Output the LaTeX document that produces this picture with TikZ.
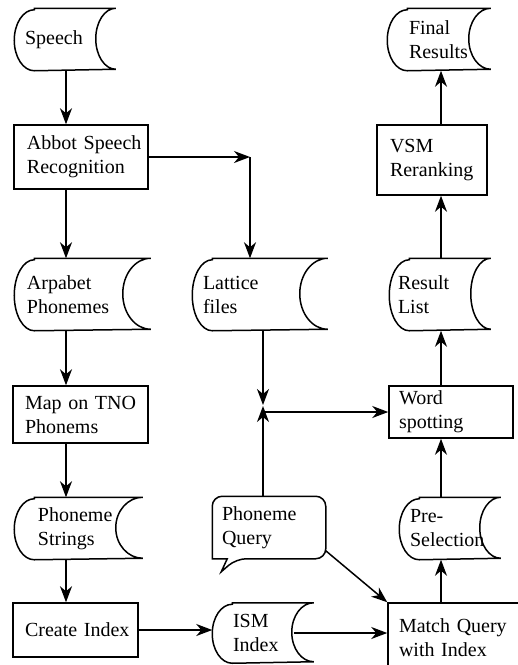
\documentclass[tikz,border=0pt]{standalone}
\usepackage{fontspec}
\setmainfont{Liberation Serif}
\usetikzlibrary{arrows.meta,calc}

% stored data outline: node, half height, radius of the right arc
\newcommand{\storedline}[3]{%
  \draw ($(#1.north west)+(20,0)$) -- (#1.north east)
    arc[start angle=270, end angle=90, x radius=#3, y radius=#2]
    -- ($(#1.south west)+(20,0)$)
    arc[start angle=90, end angle=270, x radius=20, y radius=#2] -- cycle;}
% speech bubble outline
\newcommand{\calloutline}[1]{%
  \draw[rounded corners=10] (#1.north) -- (#1.north east) -- (#1.south east)
    -- ($(#1.south west)+(24,0)$) [sharp corners] -- ($(#1.south west)+(9,13)$)
    -- ($(#1.south west)+(15,0)$) -- (#1.south west) [rounded corners=10]
    -- (#1.north west) -- cycle;}

\begin{document}
\begin{tikzpicture}[x = 1pt, y = -1pt, line width = 1.5pt,
  >={Stealth[length=16pt, width=12pt, inset=5pt]},
  box/.style = {draw, rectangle, inner xsep=0pt, inner ysep=0pt, align=left,
    font=\fontsize{20}{24}\selectfont},
  store/.style = {box, draw=none},
  textpad/.style = {execute at begin node={\leftskip=#1pt}}]
	\useasboundingbox (0,0) rectangle (518,665);
	\clip (0,0) rectangle (518,665);
	% left column
	\node[store, text width=100pt, minimum height=61pt, textpad=10] (speech) at (65,39.5) {Speech};
	\node[box, text width=134pt, minimum height=64pt, textpad=13] (abbot) at (81,157) {Abbot Speech\\Recognition};
	\node[store, text width=135pt, minimum height=71pt, textpad=12] (arpabet) at (82.5,294.5) {Arpabet\\Phonemes};
	\node[box, text width=135pt, minimum height=57pt, textpad=12] (map) at (80.5,414.5) {Map on TNO\\Phonems};
	\node[store, text width=127pt, minimum height=61pt, textpad=23] (strings) at (78.5,528.5) {Phoneme\\Strings};
	\node[box, text width=125pt, minimum height=54pt, textpad=12] (create) at (75.5,630) {Create Index};
	% middle column
	\node[store, text width=134pt, minimum height=71pt, textpad=10] (lattice) at (260,294.5) {Lattice\\files};
	\node[store, text width=112pt, minimum height=61pt, textpad=9] (query) at (269,527.5) {Phoneme\\Query};
	\node[store, text width=100pt, minimum height=59pt, textpad=20] (ism) at (263,633) {ISM\\Index};
	% right column
	\node[box, text width=140pt, minimum height=70pt, textpad=11] (match) at (458,638) {Match Query\\with Index};
	\node[store, text width=100pt, minimum height=61pt, textpad=10] (pre) at (450,528.5) {Pre-\\Selection};
	\node[box, text width=124pt, minimum height=52pt, textpad=10] (word) at (451,412) {Word\\spotting};
	\node[store, text width=100pt, minimum height=71pt, textpad=8] (result) at (440,294.5) {Result\\List};
	\node[box, text width=110pt, minimum height=70pt, textpad=13] (vsm) at (432,160) {VSM\\Reranking};
	\node[store, text width=102pt, minimum height=61pt, textpad=21] (final) at (439,39.5) {Final\\Results};

	\storedline{speech}{30.5}{20}
	\storedline{arpabet}{35.5}{28}
	\storedline{strings}{30.5}{27}
	\storedline{lattice}{35.5}{28}
	\storedline{ism}{29.5}{22}
	\storedline{pre}{30.5}{21}
	\storedline{result}{35.5}{20}
	\storedline{final}{30.5}{22}
	\calloutline{query}

	\coordinate (lcol) at (66,0);
	\coordinate (rcol) at (441,0);
	\coordinate (turn) at (250,157);
	\coordinate (meet) at (263,405);

	\draw[->] (speech.south -| lcol) -- (abbot.north -| lcol);
	\draw[->] (abbot.south -| lcol) -- (arpabet.north -| lcol);
	\draw[->] (arpabet.south -| lcol) -- (map.north -| lcol);
	\draw[->] (map.south -| lcol) -- (strings.north -| lcol);
	\draw[->] (strings.south -| lcol) -- (create.north -| lcol);
	\draw[->] (abbot.east) -- (turn);
	\draw[->] (turn) -- (turn |- lattice.north);
	\draw[->] (lattice.south -| meet) -- (meet);
	\draw[->] (query.north -| meet) -- ($(meet)+(0,1)$);
	\draw[->] (meet |- word.west) -- (word.west);
	\draw[->] ($(query.south east)+(0,-8)$) -- (match.north west);
	\draw[->] (create.east) -- (create.east -| ism.west);
	\draw[->] ($(ism.east)+(-20,0)$) -- (ism.east -| match.west);
	\draw[->] (match.north -| rcol) -- (pre.south -| rcol);
	\draw[->] (pre.north -| rcol) -- (word.south -| rcol);
	\draw[->] (word.north -| rcol) -- (result.south -| rcol);
	\draw[->] (result.north -| rcol) -- (vsm.south -| rcol);
	\draw[->] (vsm.north -| rcol) -- (final.south -| rcol);
\end{tikzpicture}
\end{document}
